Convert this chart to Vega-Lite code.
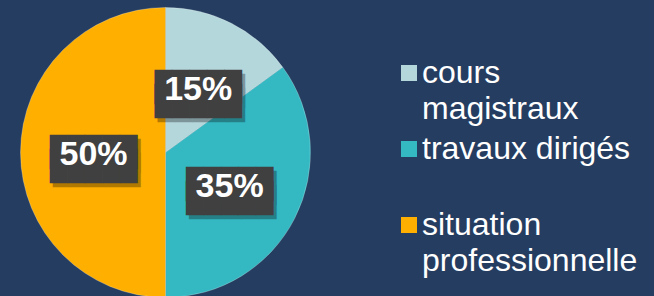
{
  "$schema": "https://vega.github.io/schema/vega-lite/v6.json",
  "width": 331,
  "height": 305,
  "padding": {"left": 0, "top": 0, "right": 40, "bottom": 0},
  "background": "#253D60",
  "config": {"view": {"stroke": null}},
  "data": {
    "values": [
      {"categorie": "cours magistraux", "part": 15, "ordre": 1, "etiquette": "15%"},
      {"categorie": "travaux dirigés", "part": 35, "ordre": 2, "etiquette": "35%"},
      {"categorie": "situation professionnelle", "part": 50, "ordre": 3, "etiquette": "50%"}
    ]
  },
  "encoding": {
    "theta": {"field": "part", "type": "quantitative", "stack": true},
    "order": {"field": "ordre", "type": "ordinal"}
  },
  "layer": [
    {
      "mark": {"type": "arc", "outerRadius": 145, "stroke": "#ffffff", "strokeOpacity": 0.25, "strokeWidth": 1},
      "encoding": {
        "color": {
          "field": "categorie",
          "type": "nominal",
          "scale": {
            "domain": ["cours magistraux", "travaux dirigés", "situation professionnelle"],
            "range": ["#B4D7DC", "#34B9C2", "#FFAF00"]
          },
          "legend": {
            "orient": "none",
            "legendX": 393,
            "legendY": 57,
            "title": null,
            "symbolType": "square",
            "symbolSize": 256,
            "symbolStrokeWidth": 0,
            "symbolOpacity": 1,
            "labelFont": "Liberation Sans",
            "labelFontSize": 32,
            "labelColor": "#ffffff",
            "labelLimit": 400,
            "labelOffset": -3,
            "rowPadding": 8,
            "labelExpr": "datum.label == 'cours magistraux' ? ['cours', 'magistraux'] : datum.label == 'travaux dirigés' ? ['travaux dirigés', ' '] : ['situation', 'professionnelle']",
            "encoding": {"labels": {"lineHeight": {"value": 36}}}
          }
        }
      }
    },
    {
      "mark": {"type": "text", "radius": 72, "font": "DejaVu Sans Mono", "fontSize": 29, "lineHeight": 14, "baseline": "middle", "align": "center", "color": "#000000", "opacity": 0.3, "dx": 3, "dy": 4, "text": ["█████", "█████"]}
    },
    {
      "mark": {"type": "text", "radius": 72, "font": "DejaVu Sans Mono", "fontSize": 29, "lineHeight": 14, "baseline": "middle", "align": "center", "color": "#404040", "text": ["█████", "█████"]}
    },
    {
      "mark": {"type": "text", "radius": 72, "font": "Liberation Sans", "fontWeight": "bold", "fontSize": 34, "baseline": "middle", "align": "center", "color": "#ffffff", "dy": 2},
      "encoding": {"text": {"field": "etiquette", "type": "nominal"}}
    }
  ]
}
